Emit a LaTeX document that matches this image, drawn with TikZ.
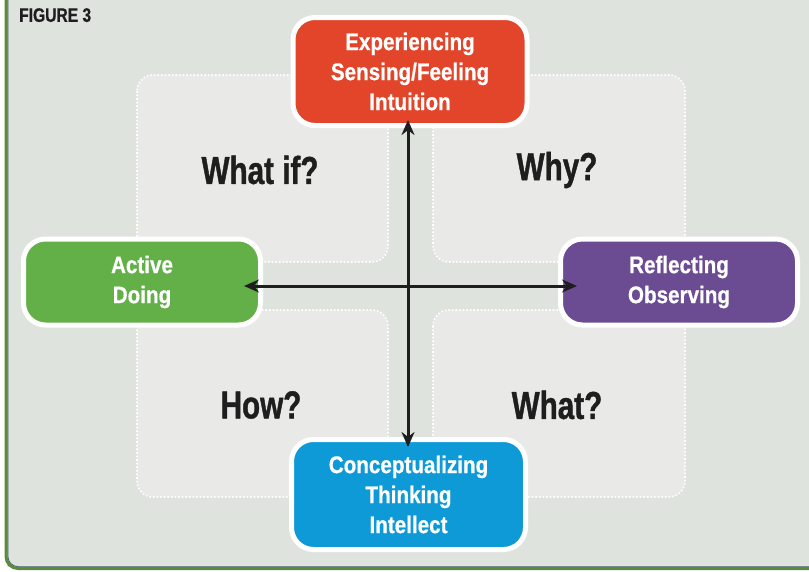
\documentclass[tikz,border=0pt]{standalone}
\usepackage{fontspec}
\setmainfont{Liberation Sans}
\newfontfamily\condbold[FakeStretch=0.86,FakeBold=0.6]{Liberation Sans Bold}
\newfontfamily\figbold[FakeStretch=0.8,FakeBold=0.6]{Liberation Sans Bold}
\newfontfamily\quadbold[FakeStretch=0.76,FakeBold=1]{Liberation Sans Bold}
\usetikzlibrary{arrows.meta,shadows}
\definecolor{bgcol}{HTML}{DFE3DE}
\definecolor{framegreen}{HTML}{5B8C3C}
\definecolor{frameinner}{HTML}{3E5A6A}
\definecolor{quadfill}{HTML}{E9E9E8}
\definecolor{redbox}{HTML}{E2452A}
\definecolor{greenbox}{HTML}{62B047}
\definecolor{purplebox}{HTML}{6B4C93}
\definecolor{bluebox}{HTML}{0D9AD7}
\definecolor{txtdark}{HTML}{1E1E1E}
\tikzset{
  quadbox/.style={draw=white, line width=1.6pt, dash pattern=on 1.6pt off 2pt, fill=quadfill, rounded corners=16pt},
  quadlabel/.style={text=txtdark, font=\quadbold\fontsize{39}{41}\selectfont},
  modebox/.style={draw=white, line width=5pt, rounded corners=22pt, text=white, align=center,
    font=\condbold\fontsize{24}{30}\selectfont, inner sep=0pt,
    drop shadow={shadow xshift=1pt, shadow yshift=-1.5pt, opacity=0.25}},
  axis/.style={line width=3pt, draw=txtdark, {Stealth[length=15pt,width=13pt]}-{Stealth[length=15pt,width=13pt]}}
}
\begin{document}
\begin{tikzpicture}[x=1pt,y=-1pt]
\useasboundingbox (0,0) rectangle (809,571);
\fill[white] (0,0) rectangle (809,571);
% frame
\fill[bgcol] (7,-20) rectangle (830,567);
\draw[framegreen, line width=3pt, rounded corners=12pt] (6,-20) -- (6,568.5) -- (830,568.5);
\draw[frameinner, line width=0.7pt, rounded corners=10pt] (8,-20) -- (8,566.6) -- (830,566.6);
\node[anchor=north west, inner sep=0pt, text=txtdark, font=\figbold\fontsize{19.5}{21}\selectfont] (fig) at (19,8) {FIGURE 3};
% quadrants
\path[quadbox] (137,75) rectangle (388,262);
\path[quadbox] (433,75) rectangle (685,262);
\path[quadbox] (137,310) rectangle (388,497);
\path[quadbox] (433,310) rectangle (685,497);
\node[quadlabel] (whatif) at (260,170) {What if?};
\node[quadlabel] (why) at (557,170) {Why?};
\node[quadlabel] (how) at (261,405) {How?};
\node[quadlabel] (what) at (557,405) {What?};
% mode boxes
\node[modebox, fill=redbox, minimum width=234pt, minimum height=108pt] (exp) at (410,71.5) {Experiencing\\Sensing/Feeling\\Intuition};
\node[modebox, fill=greenbox, minimum width=237pt, minimum height=86pt] (act) at (142,282) {Active\\Doing};
\node[modebox, fill=purplebox, minimum width=237pt, minimum height=86pt] (ref) at (679,282) {Reflecting\\Observing};
\node[modebox, fill=bluebox, minimum width=234pt, minimum height=110pt] (con) at (408.5,494.5) {Conceptualizing\\Thinking\\Intellect};
% axes
\coordinate (vt) at (408,120);
\coordinate (vb) at (408,447);
\coordinate (hl) at (244,286);
\coordinate (hr) at (577,286);
\draw[axis] (vt) -- (vb);
\draw[axis] (hl) -- (hr);
\end{tikzpicture}
\end{document}
